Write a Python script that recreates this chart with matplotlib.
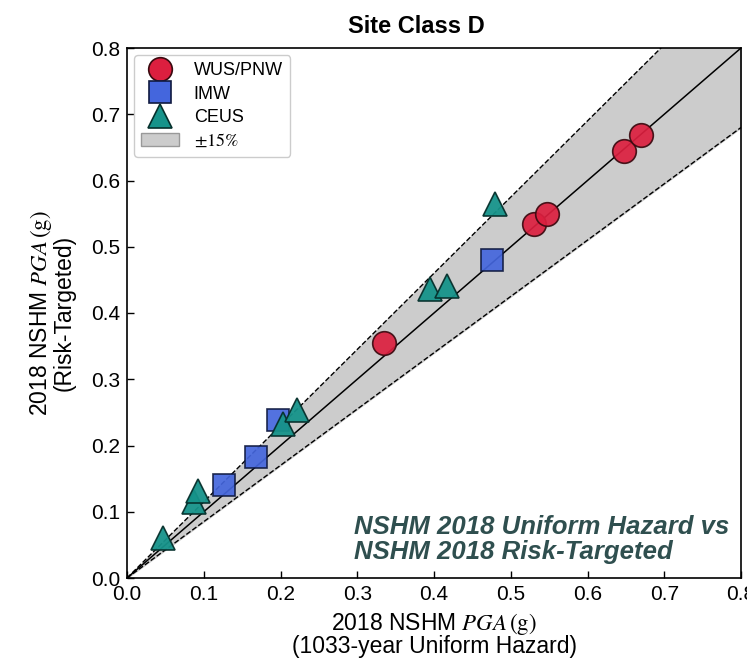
import numpy as np
import matplotlib
matplotlib.use('Agg')
import matplotlib.pyplot as plt
from matplotlib.patches import Patch
from matplotlib.lines import Line2D

plt.rcParams['font.family'] = ['Liberation Sans', 'DejaVu Sans']
plt.rcParams['mathtext.fontset'] = 'stix'

# 1033-year uniform hazard PGA (x) vs risk-targeted PGA (y), in g
wus_x = [0.335, 0.530, 0.547, 0.647, 0.670]
wus_y = [0.355, 0.535, 0.550, 0.644, 0.668]

imw_x = [0.126, 0.168, 0.197, 0.475]
imw_y = [0.140, 0.182, 0.238, 0.480]

ceus_x = [0.047, 0.087, 0.092, 0.203, 0.222, 0.395, 0.417, 0.479]
ceus_y = [0.060, 0.115, 0.132, 0.233, 0.253, 0.436, 0.441, 0.564]

band = 0.15
ticks = [0.0, 0.1, 0.2, 0.3, 0.4, 0.5, 0.6, 0.7, 0.8]

# marker styles per region
sty_wus = dict(marker='o', ms=17, mfc='#dc1f3f', mec='#3a0a10', mew=1.2)
sty_imw = dict(marker='s', ms=16.5, mfc='#4466dd', mec='#101a40', mew=1.2)
sty_ceus = dict(marker='^', ms=17.5, mfc='#16938a', mec='#06302c', mew=1.2)

fig = plt.figure(figsize=(7.47, 6.66), dpi=100)
ax = fig.add_axes([127 / 747, 88 / 666, 614 / 747, 530 / 666])

# +/-15% envelope around the 1:1 line
xx = np.array([0.0, 0.8])
ax.fill_between(xx, xx * (1 - band), xx * (1 + band), color='#cccccc', zorder=1)
ax.plot(xx, xx * (1 + band), color='black', ls='--', lw=1.0, zorder=2)
ax.plot(xx, xx * (1 - band), color='black', ls='--', lw=1.0, zorder=2)
ax.plot(xx, xx, color='black', lw=1.1, zorder=2)

ax.plot(wus_x, wus_y, ls='none', alpha=0.92, zorder=3, **sty_wus)
ax.plot(imw_x, imw_y, ls='none', alpha=0.92, zorder=3, **sty_imw)
ax.plot(ceus_x, ceus_y, ls='none', alpha=0.95, zorder=4, **sty_ceus)

ax.set_xlim(0, 0.8)
ax.set_ylim(0, 0.8)
ax.set_xticks(ticks)
ax.set_yticks(ticks)
ax.tick_params(direction='in', labelsize=15, length=5, width=1, pad=5)
for s in ax.spines.values():
    s.set_linewidth(1.2)

ax.set_title('Site Class D', fontsize=17, fontweight='bold', pad=11, x=0.472)
ax.set_xlabel('2018 NSHM $PGA\\,(\\mathrm{g})$\n(1033-year Uniform Hazard)',
              fontsize=16.5, labelpad=5, linespacing=0.92)
ax.set_ylabel('2018 NSHM $PGA\\,(\\mathrm{g})$\n(Risk-Targeted)',
              fontsize=16.5, labelpad=11, linespacing=0.9)

ax.text(0.370, 0.118, 'NSHM 2018 Uniform Hazard vs\nNSHM 2018 Risk-Targeted',
        transform=ax.transAxes, fontsize=18.5, fontweight='bold', style='italic',
        color='#2f4f4f', ha='left', va='top', linespacing=1.02)

handles = [
    Line2D([], [], ls='none', **sty_wus),
    Line2D([], [], ls='none', **sty_imw),
    Line2D([], [], ls='none', **sty_ceus),
    Patch(facecolor='#cccccc', edgecolor='#999999'),
]
labels = ['WUS/PNW', 'IMW', 'CEUS', '$\\pm 15\\%$']
ax.legend(handles, labels, loc='upper left', fontsize=13, handlelength=2.1,
          labelspacing=0.35, borderpad=0.4, handletextpad=0.8,
          framealpha=1, edgecolor='#cccccc', borderaxespad=0.4)

fig.savefig('out.png', dpi=100)
